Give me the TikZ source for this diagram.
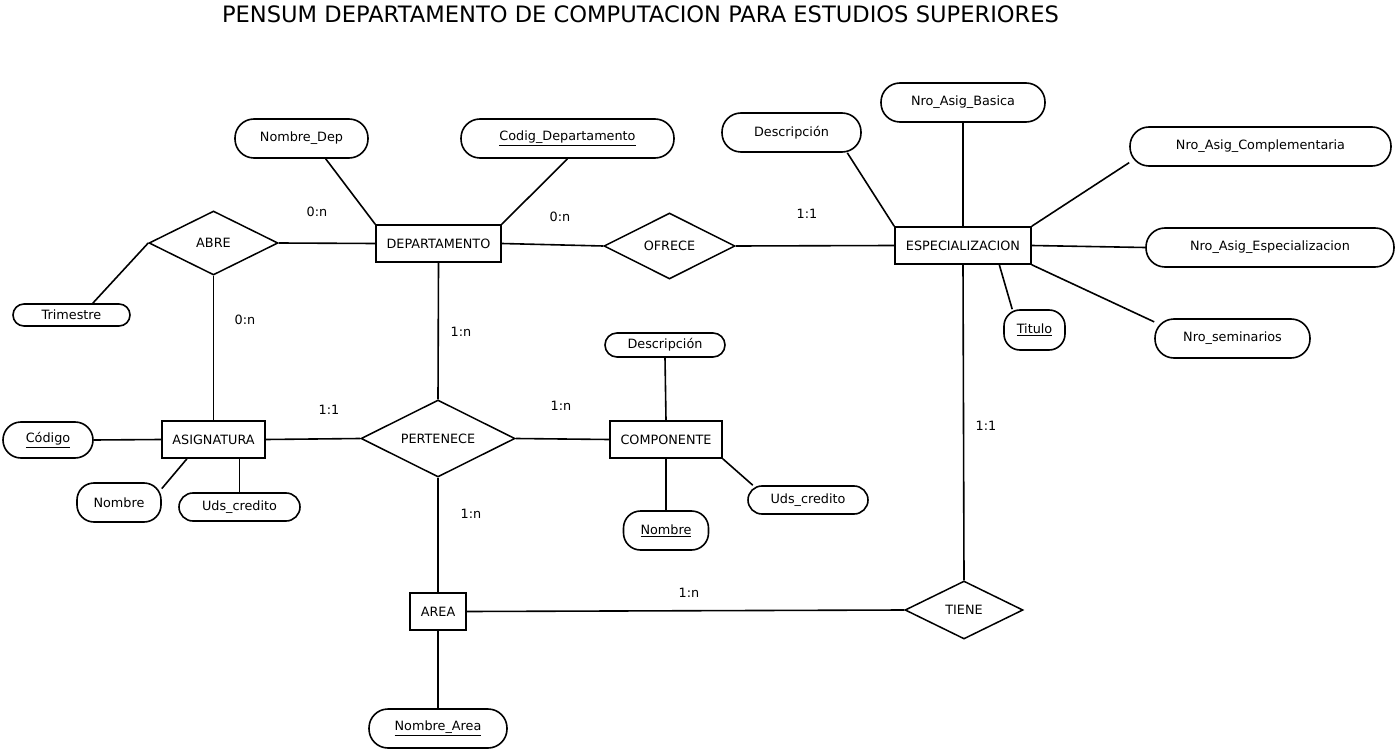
\documentclass[tikz,border=0pt]{standalone}
\usepackage{fontspec}
\setmainfont{DejaVu Sans}
\usepackage{tikz}
\usetikzlibrary{shapes.geometric,calc}
\tikzset{
  every node/.style={font=\fontsize{12.8}{15}\selectfont,text=black},
  ent/.style={draw,line width=1.6pt,minimum height=37pt,inner sep=2pt},
  rel/.style={draw,diamond,aspect=2,line width=1.5pt,inner sep=0pt},
  attr/.style={draw,line width=1.6pt,rounded corners=#1,minimum height=39pt,inner sep=2pt},
  attr/.default=19pt,
  card/.style={inner sep=1pt},
  link/.style={line width=1.6pt}
}
\begin{document}
\begin{tikzpicture}[x=1pt,y=-1pt]
  \useasboundingbox (0,0) rectangle (1397,751);
  \node[font=\fontsize{22.6}{26}\selectfont] (title) at (640.5,14) {PENSUM DEPARTAMENTO DE COMPUTACION PARA ESTUDIOS SUPERIORES};
  % entidades
  \node[ent,minimum width=125pt] (dep) at (438.5,243.5) {DEPARTAMENTO};
  \node[ent,minimum width=136pt] (esp) at (963,245.5) {ESPECIALIZACION};
  \node[ent,minimum width=103pt] (asig) at (213.5,439.5) {ASIGNATURA};
  \node[ent,minimum width=112pt] (comp) at (666,439.5) {COMPONENTE};
  \node[ent,minimum width=56pt] (area) at (438,611.5) {AREA};
  % relaciones
  \node[rel,minimum width=129pt,minimum height=64pt] (abre) at (213.5,243) {ABRE};
  \node[rel,minimum width=131pt,minimum height=66pt] (ofrece) at (669.5,246) {OFRECE};
  \node[rel,minimum width=154pt,minimum height=77pt] (pert) at (438,438.5) {PERTENECE};
  \node[rel,minimum width=118pt,minimum height=58pt] (tiene) at (964,610) {TIENE};
  % atributos
  \node[attr,minimum width=133pt] (nomDep) at (301.5,138.5) {Nombre\_Dep};
  \node[attr,minimum width=213pt] (codDep) at (567.5,138.5) {\underline{Codig\_Departamento}};
  \node[attr,minimum width=139pt] (descEsp) at (791.5,132.5) {Descripción};
  \node[attr,minimum width=164pt] (nroBas) at (963,102.5) {Nro\_Asig\_Basica};
  \node[attr,minimum width=261pt] (nroComp) at (1260.5,146.5) {Nro\_Asig\_Complementaria};
  \node[attr,minimum width=248pt] (nroEsp) at (1270,247.5) {Nro\_Asig\_Especializacion};
  \node[attr=16pt,minimum width=61pt,minimum height=40pt] (titulo) at (1034.5,330) {\underline{Titulo}};
  \node[attr,minimum width=155pt] (nroSem) at (1232.5,338.5) {Nro\_seminarios};
  \node[attr=11pt,minimum width=117pt,minimum height=22pt] (trim) at (71.5,315) {Trimestre};
  \node[attr=18pt,minimum width=90pt,minimum height=36pt] (codAsig) at (48,440) {\underline{Código}};
  \node[attr=17pt,minimum width=84pt] (nomAsig) at (119,502.5) {Nombre};
  \node[attr=14pt,minimum width=121pt,minimum height=28pt] (udsAsig) at (239.5,507) {Uds\_credito};
  \node[attr=12pt,minimum width=120pt,minimum height=24pt] (descComp) at (665,345) {Descripción};
  \node[attr=17pt,minimum width=85pt] (nomComp) at (666,530.5) {\underline{Nombre}};
  \node[attr=14pt,minimum width=120pt,minimum height=28pt] (udsComp) at (808,500) {Uds\_credito};
  \node[attr,minimum width=138pt] (nomArea) at (438,728.5) {\underline{Nombre\_Area}};
  % cardinalidades
  \foreach \x/\y/\t [count=\i] in {317/212/0:n,245/320/0:n,560/217/0:n,807/214/1:1,461/332/1:n,329/410/1:1,561/406/1:n,471/514/1:n,986/426/1:1,689/593/1:n}
    \node[card] (card\i) at (\x,\y) {\t};
  % conexiones
  \draw[link] (abre.east) -- (dep.west);
  \draw[link] (abre.west) -- (trim.29);
  \draw[link] (abre.south) -- (asig.north);
  \draw[link] (dep.east) -- (ofrece.west);
  \draw[link] (ofrece.east) -- (esp.west);
  \draw[link] (dep.south) -- (pert.north);
  \draw[link] (nomDep.-40) -- (dep.north west);
  \draw[link] (codDep.south) -- (dep.north east);
  \draw[link] (descEsp.-20) -- (esp.north west);
  \draw[link] (nroBas.south) -- (esp.north);
  \draw[link] (nroComp.187) -- (esp.north east);
  \draw[link] (esp.east) -- (nroEsp.west);
  \draw[link] (esp.-28) -- (titulo.137);
  \draw[link] (esp.south east) -- (nroSem.168);
  \draw[link] (esp.south) -- (tiene.north);
  \draw[link] (codAsig.east) -- (asig.west);
  \draw[link] (asig.east) -- (pert.west);
  \draw[link] (asig.-144) -- (nomAsig.18);
  \draw[link] (udsAsig.north |- asig.south) -- (udsAsig.north);
  \draw[link] (pert.east) -- (comp.west);
  \draw[link] (descComp.south) -- (comp.north);
  \draw[link] (comp.south) -- (nomComp.north);
  \draw[link] (comp.south east) -- (udsComp.165);
  \draw[link] (pert.south) -- (area.north);
  \draw[link] (area.east) -- (tiene.west);
  \draw[link] (area.south) -- (nomArea.north);
\end{tikzpicture}
\end{document}
